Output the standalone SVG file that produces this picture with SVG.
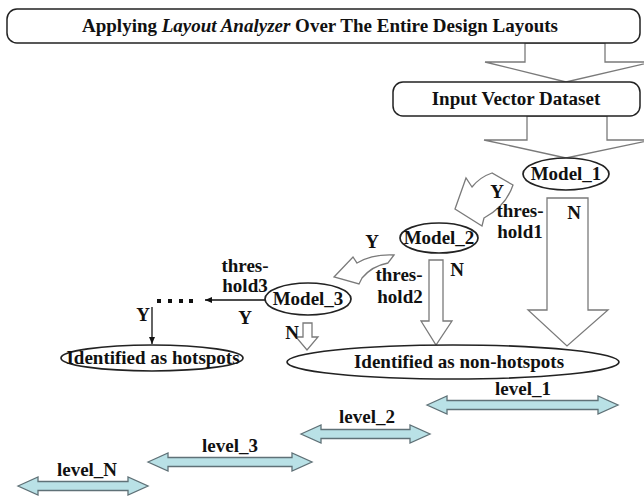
<svg xmlns="http://www.w3.org/2000/svg" width="644" height="500" viewBox="0 0 644 500">
  <defs>
    <style>
      .t { font-family: "Liberation Serif", "Times New Roman", serif; font-weight: bold; font-size: 19px; fill: #111; }
      .box { fill: #fff; stroke: #222; stroke-width: 1.5; }
      .node { fill: #fff; stroke: #222; stroke-width: 1.7; }
      .blk { fill: #fff; stroke: #7a7a7a; stroke-width: 1.3; stroke-linejoin: miter; }
      .lvl { fill: #b9e1e6; stroke: #5f7177; stroke-width: 1.3; }
      .ln { stroke: #111; stroke-width: 1.3; fill: none; }
    </style>
    <marker id="ah" markerWidth="8" markerHeight="8" refX="7" refY="4" orient="auto" markerUnits="userSpaceOnUse">
      <path d="M0,1 L7,4 L0,7 Z" fill="#111"/>
    </marker>
  </defs>

  <!-- connectors -->
  <g id="connectors">
    <path class="blk" d="M525,43 L605,43 L605,62 L652,62 L566,82 L485,62 L525,62 Z"/>
    <path class="blk" d="M527,116 L607,116 L607,140 L652,140 L566,158 L484,140 L527,140 Z"/>
    <path class="blk" d="M547,198 L588,198 L588,310 L608,310 L567,346 L528,310 L547,310 Z"/>
    <path class="blk" d="M455,209 L466,178 L472,187 Q480,177 492,173 L513,185 Q506,206 484,218 L482,226 Z"/>
    <path class="blk" d="M429,260 L443,260 L443,321 L452,321 L436,345 L421,321 L429,321 Z"/>
    <path class="blk" d="M334,277 L353,257 L357,263 Q372,254 394,255 L388,263 Q372,266 362,278 L359,284 Z"/>
    <path class="blk" d="M303,323 L312,323 L312,337 L318,337 L307,350 L296,337 L303,337 Z"/>
    <line class="ln" x1="265" y1="300" x2="205" y2="300" marker-end="url(#ah)"/>
    <line class="ln" x1="152" y1="307" x2="152" y2="344" marker-end="url(#ah)"/>
    <g id="dots" fill="#111">
      <rect x="157" y="299" width="4" height="4"/>
      <rect x="168" y="299" width="4" height="4"/>
      <rect x="179" y="299" width="4" height="4"/>
      <rect x="189" y="299" width="4" height="4"/>
    </g>
    <text class="t" x="497" y="198" text-anchor="middle">Y</text>
    <text class="t" x="520" y="217" text-anchor="middle">thres-</text>
    <text class="t" x="520" y="238" text-anchor="middle">hold1</text>
    <text class="t" x="574" y="219" text-anchor="middle">N</text>
    <text class="t" x="372" y="248" text-anchor="middle">Y</text>
    <text class="t" x="399" y="281" text-anchor="middle">thres-</text>
    <text class="t" x="400" y="303" text-anchor="middle">hold2</text>
    <text class="t" x="457" y="276" text-anchor="middle">N</text>
    <text class="t" x="245" y="272" text-anchor="middle">thres-</text>
    <text class="t" x="245" y="292" text-anchor="middle">hold3</text>
    <text class="t" x="245" y="324" text-anchor="middle">Y</text>
    <text class="t" x="292" y="339" text-anchor="middle">N</text>
    <text class="t" x="143" y="321" text-anchor="middle">Y</text>
  </g>

  <g id="title">
    <rect class="box" x="7" y="9" width="633" height="34" rx="10"/>
    <text class="t" x="320" y="32" text-anchor="middle">Applying <tspan font-style="italic">Layout Analyzer</tspan> Over The Entire Design Layouts</text>
  </g>

  <g id="input">
    <rect class="box" x="393" y="82" width="247" height="34" rx="10"/>
    <text class="t" x="516" y="105" text-anchor="middle">Input Vector Dataset</text>
  </g>

  <g id="model1">
    <ellipse class="node" cx="566" cy="174" rx="43" ry="16"/>
    <text class="t" x="566" y="180" text-anchor="middle">Model_1</text>
  </g>

  <g id="model2">
    <ellipse class="node" cx="439" cy="238" rx="39" ry="15"/>
    <text class="t" x="439" y="244" text-anchor="middle">Model_2</text>
  </g>

  <g id="model3">
    <ellipse class="node" cx="308" cy="299" rx="43" ry="16"/>
    <text class="t" x="308" y="305" text-anchor="middle">Model_3</text>
  </g>

  <g id="hotspots">
    <ellipse class="node" cx="152" cy="358" rx="91" ry="13"/>
    <text class="t" x="153" y="364" text-anchor="middle">Identified as hotspots</text>
  </g>

  <g id="nonhotspots">
    <ellipse class="node" cx="453" cy="362" rx="166" ry="17"/>
    <text class="t" x="459" y="368" text-anchor="middle">Identified as non-hotspots</text>
  </g>

  <g id="level1">
    <path class="lvl" d="M427,405 L447,396 L447,400.5 L598,400.5 L598,396 L618,405 L598,414 L598,409.5 L447,409.5 L447,414 Z"/>
    <text class="t" x="523" y="395" text-anchor="middle">level_1</text>
  </g>
  <g id="level2">
    <path class="lvl" d="M301,434 L321,425 L321,429.5 L410,429.5 L410,425 L430,434 L410,443 L410,438.5 L321,438.5 L321,443 Z"/>
    <text class="t" x="367" y="423" text-anchor="middle">level_2</text>
  </g>
  <g id="level3">
    <path class="lvl" d="M148,462 L168,453 L168,457.5 L292,457.5 L292,453 L312,462 L292,471 L292,466.5 L168,466.5 L168,471 Z"/>
    <text class="t" x="230" y="452" text-anchor="middle">level_3</text>
  </g>
  <g id="levelN">
    <path class="lvl" d="M18,486 L38,477 L38,481.5 L128,481.5 L128,477 L148,486 L128,495 L128,490.5 L38,490.5 L38,495 Z"/>
    <text class="t" x="87" y="476" text-anchor="middle">level_N</text>
  </g>
</svg>
